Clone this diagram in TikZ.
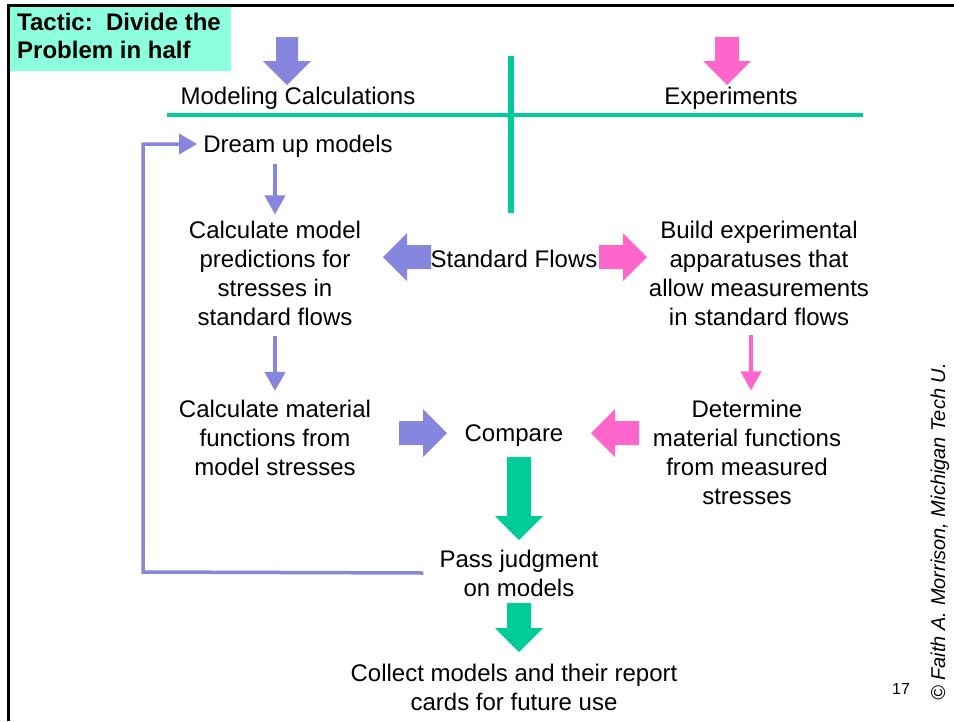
\documentclass[tikz,border=0pt]{standalone}
\usepackage{fontspec}
\setmainfont{Liberation Sans}
\usetikzlibrary{arrows.meta}
\definecolor{purp}{RGB}{134,134,222}
\definecolor{pinkc}{RGB}{255,102,204}
\definecolor{greenc}{RGB}{0,204,153}
\definecolor{titlec}{RGB}{140,255,222}
\begin{document}
\begin{tikzpicture}[x=1pt,y=-1pt,
  txt/.style={inner sep=0pt,align=center,font=\fontsize{24}{29}\selectfont},
  thinarrow/.style={line width=4pt,-{Triangle[width=20pt,length=19pt]}},
  fatp/.style={fill=purp},
  fatk/.style={fill=pinkc},
  fatg/.style={fill=greenc}]
\useasboundingbox (0,0) rectangle (954,721);
% frame
\draw[line width=2.5pt] (8.3,721) -- (8.3,5.5) -- (954,5.5);
% title
\fill[titlec] (10,7) rectangle (231,71);
\node[inner sep=0pt,anchor=north west,align=left,font=\fontsize{24}{28}\selectfont\bfseries] (title) at (17,13) {Tactic:\ \ Divide the\\Problem in half};
% top arrows
\fill[fatp] (276,37) -- (298,37) -- (298,61) -- (311,61) -- (287,85) -- (263,61) -- (276,61) -- cycle;
\fill[fatk] (715,37) -- (739,37) -- (739,61) -- (751,61) -- (727,85) -- (703,61) -- (715,61) -- cycle;
% headings
\node[txt] (model) at (298,98) {Modeling Calculations};
\node[txt] (exper) at (731,98) {Experiments};
% green cross
\draw[greenc,line width=4pt] (167,115) -- (863,115);
\draw[greenc,line width=6pt] (511,56) -- (511,213);
% text nodes
\node[txt] (dream) at (298,146) {Dream up models};
\node[txt] (calc) at (275,273) {Calculate model\\predictions for\\stresses in\\standard flows};
\node[txt] (std) at (514,259) {Standard Flows};
\node[txt] (build) at (759,273) {Build experimental\\apparatuses that\\allow measurements\\in standard flows};
\node[txt] (calcmat) at (275,438) {Calculate material\\functions from\\model stresses};
\node[txt] (comp) at (514,436) {Compare};
\node[txt] (det) at (747,452) {Determine\\material functions\\from measured\\stresses};
\node[txt] (pass) at (519,573) {Pass judgment\\on models};
\node[txt] (coll) at (514,687) {Collect models and their report\\cards for future use};
\node[inner sep=0pt,font=\fontsize{16}{19}\selectfont] (num) at (901,689) {17};
\node[inner sep=0pt,rotate=90,font=\fontsize{20}{24}\selectfont\itshape] (copy) at (940,532) {\textcopyright\ Faith A. Morrison, Michigan Tech U.};
% thin arrows
\draw[purp,thinarrow,shorten <=7pt,shorten >=6pt] (dream.south -| calc.north) -- (calc.north);
\draw[purp,thinarrow,shorten <=10pt,shorten >=9pt] (calc.south) -- (calcmat.north);
\draw[pinkc,thinarrow,shorten <=9pt,shorten >=9pt] (build.south -| 751,0) -- (det.north -| 751,0);
% feedback loop
\draw[purp,line width=3.5pt,-{Triangle[width=20pt,length=18pt]},shorten >=6pt]
  ([xshift=-16pt]pass.west) -- (143,572) |- ([yshift=2pt]dream.west);
% fat arrows around standard flows
\fill[fatp] (431,245) -- (407,245) -- (407,233) -- (383,257) -- (407,281) -- (407,269) -- (431,269) -- cycle;
\fill[fatk] (599,245) -- (623,245) -- (623,233) -- (647,257) -- (623,281) -- (623,269) -- (599,269) -- cycle;
% fat arrows into compare
\fill[fatp] (399,421) -- (423,421) -- (423,409) -- (447,433) -- (423,457) -- (423,445) -- (399,445) -- cycle;
\fill[fatk] (639,421) -- (615,421) -- (615,409) -- (591,433) -- (615,457) -- (615,445) -- (639,445) -- cycle;
% green down arrows
\fill[fatg] (507,457) -- (531,457) -- (531,516) -- (543,516) -- (519,540) -- (495,516) -- (507,516) -- cycle;
\fill[fatg] (507,603) -- (531,603) -- (531,628) -- (543,628) -- (519,652) -- (495,628) -- (507,628) -- cycle;
\end{tikzpicture}
\end{document}
